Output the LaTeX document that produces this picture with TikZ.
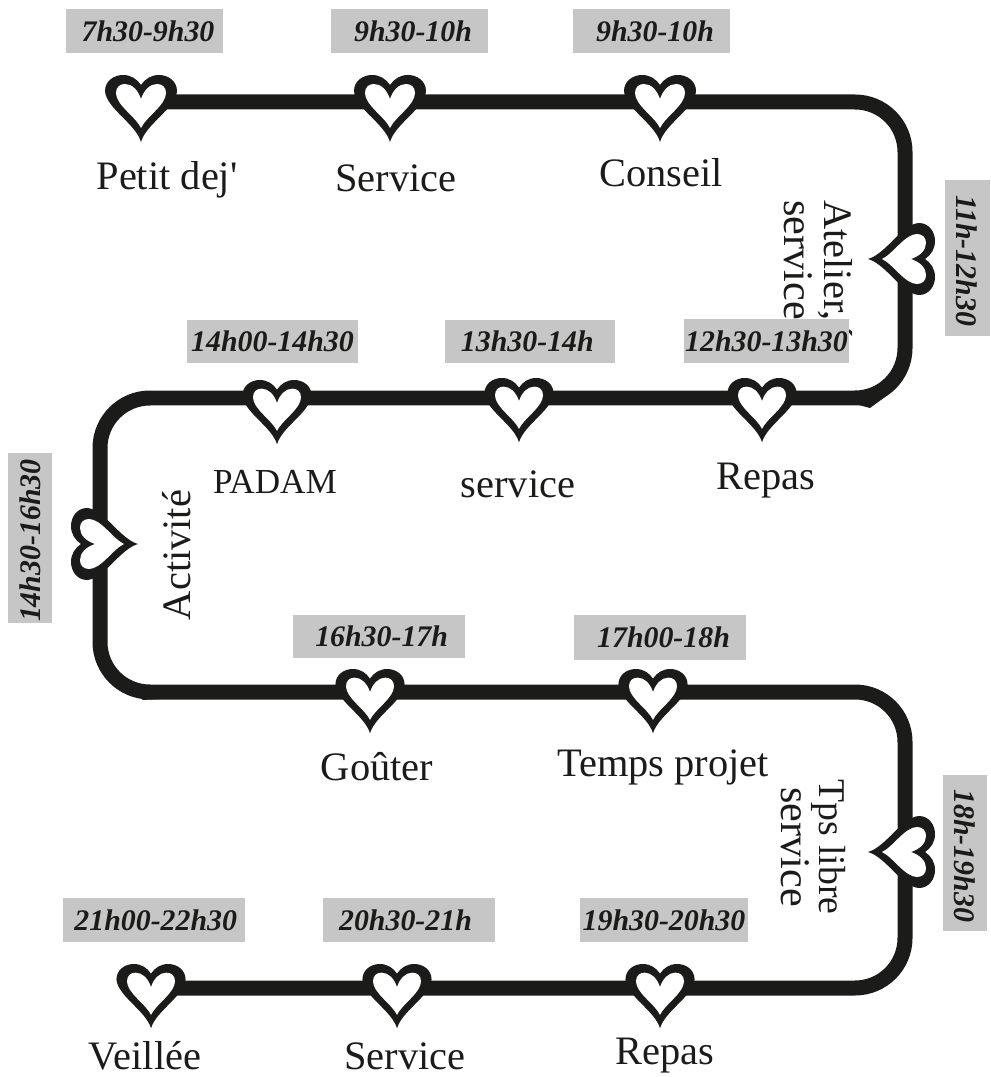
\documentclass[tikz,border=0pt]{standalone}
\usepackage{fontspec}
\setmainfont{Liberation Serif}
\newfontfamily\straightfont{Liberation Serif}
\definecolor{trackblack}{RGB}{27,27,26}
\definecolor{timegray}{RGB}{198,198,198}
\tikzset{
  track/.style={draw=trackblack,line width=0.3cm,rounded corners=1cm},
  timebox/.style={fill=timegray,inner sep=0pt,font=\fontsize{17}{17}\selectfont\bfseries\itshape,text=trackblack},
  steplabel/.style={font=\fontsize{23}{23}\selectfont,text=trackblack,inner sep=0pt},
  heartmark/.pic={
    \begin{scope}[x=0.02cm,y=0.02cm]
    \fill[trackblack] (0,-42) .. controls (-5,-24) and (-35,-8) .. (-36,9)
      .. controls (-36,19) and (-27,25) .. (-18,25)
      .. controls (-10,25) and (-4,21) .. (0,15)
      .. controls (4,21) and (10,25) .. (18,25)
      .. controls (27,25) and (36,19) .. (36,9)
      .. controls (35,-8) and (5,-24) .. (0,-42) -- cycle;
    \fill[white] (0,-28) .. controls (-5,-17) and (-25,-5) .. (-25,7)
      .. controls (-25,13) and (-21,16) .. (-16,16)
      .. controls (-9,16) and (-3,10) .. (0,1)
      .. controls (3,10) and (9,16) .. (16,16)
      .. controls (21,16) and (25,13) .. (25,7)
      .. controls (25,-5) and (5,-17) .. (0,-28) -- cycle;
    \end{scope}
  }
}
\begin{document}
\begin{tikzpicture}[x=0.02cm,y=-0.02cm]
\useasboundingbox (0,0) rectangle (990,1077);
% corners of the track
\foreach \name/\x/\y in {c0/141/102,c1/905/102,c2/905/398,c3/100/398,c4/100/692,c5/905/692,c6/905/988}
  \coordinate (\name) at (\x,\y);
% hearts
\foreach \name/\x/\y in {h1/141/100,h2/390/100,h3/660/100,h4/910/259,
    h5/762/402,h6/519/402,h7/277/404,h8/96/544,
    h9/370/693,h10/653/693,h11/910/852,
    h12/660/988,h13/397/988,h14/151/988}
  \coordinate (\name) at (\x,\y);
\draw[track] (c0) -- (c1) -- (c2) -- (c3) -- (c4) -- (c5) -- (c6) -- (h14);
% small tips left on the outer side of two bends
\fill[trackblack] (855,404) -- (870,408) -- (885,397) -- cycle;
\fill[trackblack] (120,680) -- (143,700) -- (160,699) -- cycle;
\foreach \name/\rot/\sc in {h1/0/1,h2/0/1,h3/0/1,h4/-90/1,h5/0/.96,h6/0/.96,h7/0/.96,h8/90/1,
    h9/0/.96,h10/0/.96,h11/-90/1,h12/0/.96,h13/0/.96,h14/0/.96}
  \pic[rotate=\rot,scale=\sc] at (\name) {heartmark};
% activities
\foreach \name/\x/\y/\txt in {petit/167/180/{Petit dej{\straightfont'}},servA/396/178/Service,conseil/661/173/Conseil,
    padam/275/482/{\fontsize{20}{20}\selectfont PADAM},servB/518/484/service,repasA/766/481/Repas,
    gouter/377/767/Goûter,projet/663/767/Temps projet,
    veillee/145/1056/Veillée,servC/405/1056/Service,repasB/665/1056/Repas}
  \node[steplabel] (\name) at (\x,\y) {\txt};
\node[steplabel,rotate=-90,anchor=north west,align=left] (atelier) at (853,200) {Atelier, \kern-6pt é\\{\fontsize{24}{23}\selectfont service}};
\node[steplabel,rotate=-90,align=center] (libre) at (813,847) {{\fontsize{21.5}{21}\selectfont Tps libre}\\[-1.5pt]{\fontsize{24}{23}\selectfont service}};
\node[steplabel,rotate=90] (activite) at (177,555) {Activité};
% times
\foreach \name/\xa/\ya/\xb/\yb/\dx/\txt in {tA/66/9/223/53/4/7h30-9h30,tB/331/9/488/53/4/9h30-10h,tC/573/9/730/53/4/9h30-10h,
    tE/187/320/358/363/0/14h00-14h30,tF/445/320/615/363/-3/13h30-14h,tG/684/319/849/363/0/12h30-13h30,
    tI/293/615/465/658/3/16h30-17h,tJ/574/615/746/660/4/17h00-18h,
    tL/63/898/245/942/2/21h00-22h30,tM/323/898/495/942/-4/20h30-21h,tN/580/898/748/942/0/19h30-20h30}
  \node[timebox,minimum width={(\xb-\xa)*0.02cm},minimum height={(\yb-\ya)*0.02cm}] (\name) at ({(\xa+\xb)/2},{(\ya+\yb)/2}) {\hspace*{\dx pt}\txt};
\node[timebox,rotate=-90,minimum width=3.12cm,minimum height=0.9cm] (tD) at (967,258) {\hspace*{3pt}11h-12h30};
\node[timebox,rotate=90,minimum width=3.42cm,minimum height=0.88cm] (tH) at (30,538) {\hspace*{-3pt}14h30-16h30};
\node[timebox,rotate=-90,minimum width=3.12cm,minimum height=0.88cm] (tK) at (965,853) {\hspace*{3pt}18h-19h30};
\end{tikzpicture}
\end{document}
